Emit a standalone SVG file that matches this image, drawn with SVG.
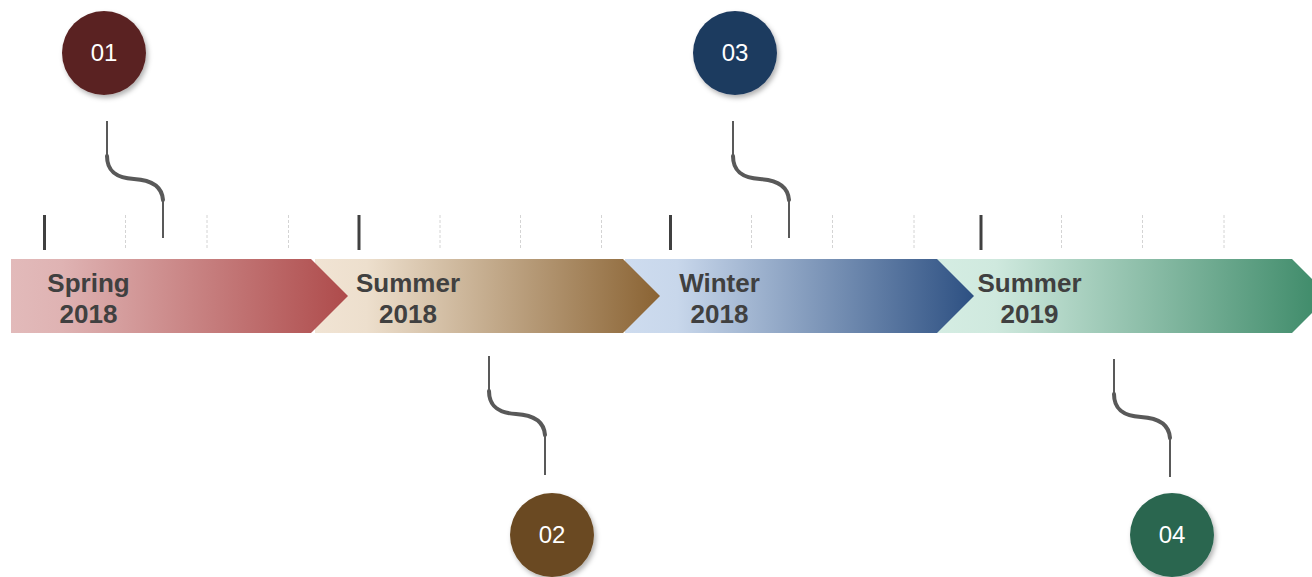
<svg xmlns="http://www.w3.org/2000/svg" width="1312" height="577" viewBox="0 0 1312 577">
<defs>
<linearGradient id="gR" x1="0" y1="0" x2="1" y2="0"><stop offset="0" stop-color="#e2baba"/><stop offset="0.15" stop-color="#dfb3b3"/><stop offset="1" stop-color="#ae4b4b"/></linearGradient>
<linearGradient id="gB" x1="0" y1="0" x2="1" y2="0"><stop offset="0" stop-color="#f1e4d4"/><stop offset="0.15" stop-color="#eddfcd"/><stop offset="1" stop-color="#8a6333"/></linearGradient>
<linearGradient id="gU" x1="0" y1="0" x2="1" y2="0"><stop offset="0" stop-color="#cedcef"/><stop offset="0.15" stop-color="#c8d7eb"/><stop offset="1" stop-color="#2d5082"/></linearGradient>
<linearGradient id="gG" x1="0" y1="0" x2="1" y2="0"><stop offset="0" stop-color="#d5ede3"/><stop offset="0.15" stop-color="#cfe9de"/><stop offset="1" stop-color="#3a8866"/></linearGradient>
<filter id="sh" x="-30%" y="-30%" width="160%" height="160%"><feDropShadow dx="2" dy="3" stdDeviation="2.5" flood-color="#000" flood-opacity="0.3"/></filter>
</defs>
<style>
.lbl{font-family:"Liberation Sans",Arial,sans-serif;font-weight:bold;font-size:26px;fill:#404040;text-anchor:middle}
.num{font-family:"Liberation Sans",Arial,sans-serif;font-size:24px;fill:#ffffff;text-anchor:middle}
.tick{stroke:#404040;stroke-width:3}
.dash{stroke:#d4d4d4;stroke-width:1;stroke-dasharray:3 2}
.thin{fill:none;stroke:#595959;stroke-width:2}
.curve{fill:none;stroke:#595959;stroke-width:4;stroke-linecap:round}
</style>
<g id="ticks">
<line class="tick" x1="44.5" y1="215" x2="44.5" y2="250"/>
<line class="tick" x1="359" y1="215" x2="359" y2="250"/>
<line class="tick" x1="670.5" y1="215" x2="670.5" y2="250"/>
<line class="tick" x1="981" y1="215" x2="981" y2="250"/>
<line class="dash" x1="125.5" y1="215" x2="125.5" y2="250"/>
<line class="dash" x1="207" y1="215" x2="207" y2="250"/>
<line class="dash" x1="288.5" y1="215" x2="288.5" y2="250"/>
<line class="dash" x1="440" y1="215" x2="440" y2="250"/>
<line class="dash" x1="520.5" y1="215" x2="520.5" y2="250"/>
<line class="dash" x1="601.5" y1="215" x2="601.5" y2="250"/>
<line class="dash" x1="751.5" y1="215" x2="751.5" y2="250"/>
<line class="dash" x1="832.5" y1="215" x2="832.5" y2="250"/>
<line class="dash" x1="914" y1="215" x2="914" y2="250"/>
<line class="dash" x1="1061.5" y1="215" x2="1061.5" y2="250"/>
<line class="dash" x1="1142.5" y1="215" x2="1142.5" y2="250"/>
<line class="dash" x1="1224" y1="215" x2="1224" y2="250"/>
</g>
<g id="seg4">
<polygon points="937,259 1292,259 1329,296 1292,333 937,333" fill="url(#gG)"/>
<text class="lbl" x="1029.5" y="292">Summer</text>
<text class="lbl" x="1029.5" y="323">2019</text>
</g>
<g id="seg3">
<polygon points="625,259 937,259 974,296 937,333 625,333" fill="url(#gU)"/>
<text class="lbl" x="719.5" y="292">Winter</text>
<text class="lbl" x="719.5" y="323">2018</text>
</g>
<g id="seg2">
<polygon points="315,259 623,259 660,296 623,333 315,333" fill="url(#gB)"/>
<text class="lbl" x="408" y="292">Summer</text>
<text class="lbl" x="408" y="323">2018</text>
</g>
<g id="seg1">
<polygon points="11,259 311,259 348,296 311,333 11,333" fill="url(#gR)"/>
<text class="lbl" x="88.5" y="292">Spring</text>
<text class="lbl" x="88.5" y="323">2018</text>
</g>
<g id="connectors">
<line class="thin" x1="107" y1="121" x2="107" y2="156"/>
<path class="curve" d="M107,156 C107,172 117,178 134,179 C151,180 162,186 163,200"/>
<line class="thin" x1="163" y1="199" x2="163" y2="238"/>
<line class="thin" x1="733" y1="121" x2="733" y2="156"/>
<path class="curve" d="M733,156 C733,172 743,178 760,179 C777,180 788,186 789,200"/>
<line class="thin" x1="789" y1="199" x2="789" y2="238"/>
<line class="thin" x1="489" y1="356" x2="489" y2="391"/>
<path class="curve" d="M489,391 C489,407 499,413 516,414 C533,415 544,421 545,435"/>
<line class="thin" x1="545" y1="434" x2="545" y2="475"/>
<line class="thin" x1="1114" y1="359" x2="1114" y2="394"/>
<path class="curve" d="M1114,394 C1114,410 1124,416 1141,417 C1158,418 1169,424 1170,438"/>
<line class="thin" x1="1170" y1="437" x2="1170" y2="477"/>
</g>
<g id="node1">
<circle cx="104" cy="53" r="42" fill="#5a2424" filter="url(#sh)"/>
<text class="num" x="104" y="61">01</text>
</g>
<g id="node3">
<circle cx="735" cy="53" r="42" fill="#1f3a5f" filter="url(#sh)"/>
<text class="num" x="735" y="61">03</text>
</g>
<g id="node2">
<circle cx="552" cy="535" r="42" fill="#6b4a22" filter="url(#sh)"/>
<text class="num" x="552" y="543">02</text>
</g>
<g id="node4">
<circle cx="1172" cy="535" r="42" fill="#2a6650" filter="url(#sh)"/>
<text class="num" x="1172" y="543">04</text>
</g>
</svg>
